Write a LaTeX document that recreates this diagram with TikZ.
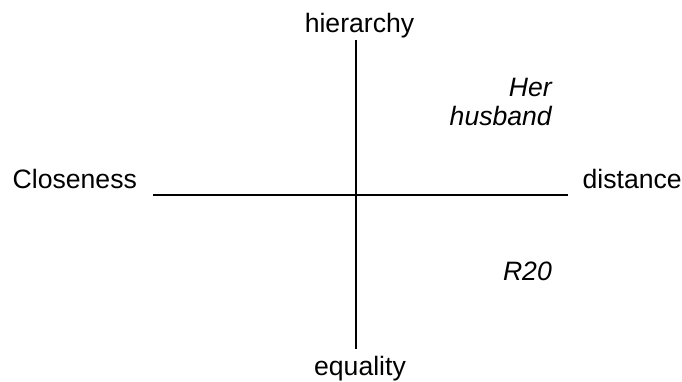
\documentclass[tikz,border=0pt]{standalone}
\usepackage{fontspec}
\setmainfont{Liberation Sans}
\begin{document}
\begin{tikzpicture}[x=1pt,y=-1pt,
  lbl/.style={inner sep=0pt,font=\fontsize{26.6}{32}\selectfont},
  ilbl/.style={lbl,font=\fontsize{26.6}{32}\selectfont\itshape},
  axis/.style={line width=1.6pt}]
\useasboundingbox (0,0) rectangle (682,381);
\coordinate (top) at (356,40);
\coordinate (bot) at (356,349);
\coordinate (left) at (153,195);
\coordinate (right) at (568,195);
\draw[axis] (top) -- (bot);
\draw[axis] (left) -- (right);
\node[lbl,anchor=base] (hier) at (359.5,32) {hierarchy};
\node[lbl,anchor=base] (eq) at (360,375) {equality};
\node[lbl,anchor=base west] (close) at (12.5,188) {Closeness};
\node[lbl,anchor=base west] (dist) at (582.5,188) {distance};
\node[ilbl,anchor=base east] (her) at (552,96) {Her};
\node[ilbl,anchor=base east] (hus) at (552,125) {husband};
\node[ilbl,anchor=base east] (r20) at (552,280) {R20};
\end{tikzpicture}
\end{document}
